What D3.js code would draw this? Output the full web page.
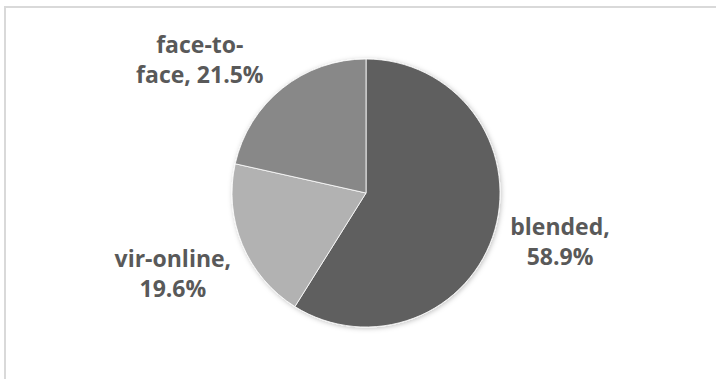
<!DOCTYPE html>
<html>
<head>
<meta charset="utf-8">
<script src="https://cdn.jsdelivr.net/npm/d3@7"></script>
<style>
  html, body { margin: 0; padding: 0; background: #ffffff; }
  svg { display: block; }
</style>
</head>
<body>
<svg id="chart" width="716" height="379"></svg>
<script>
// Share of delivery modes (percent), drawn clockwise from 12 o'clock
const categories = ["blended", "vir-online", "face-to-face"];
const values = [58.9, 19.6, 21.5];
const sliceColors = ["#5f5f5f", "#b2b2b2", "#888888"];

// Where each data label wraps onto a second line
const labelLines = [
  d => [d.category + ",", d.value.toFixed(1) + "%"],
  d => [d.category + ",", d.value.toFixed(1) + "%"],
  d => ["face-to-", "face, " + d.value.toFixed(1) + "%"]
];

const width = 716, height = 379;
const cx = 366, cy = 193, radius = 134;
const labelRadius = 205;
const lineGap = 30;
// best-fit nudges for each label, in pixels
const labelNudge = [[-3, 0], [-4, 10], [-38, 35]];

const svg = d3.select("#chart");

// chart area frame
svg.append("rect")
  .attr("x", 5).attr("y", 7)
  .attr("width", width + 20).attr("height", height + 20)
  .attr("fill", "#ffffff")
  .attr("stroke", "#d9d9d9")
  .attr("stroke-width", 2);

const defs = svg.append("defs");
const shadow = defs.append("filter")
  .attr("id", "pieShadow")
  .attr("x", "-20%").attr("y", "-20%")
  .attr("width", "140%").attr("height", "140%");
shadow.append("feDropShadow")
  .attr("dx", 1).attr("dy", 1)
  .attr("stdDeviation", 2.5)
  .attr("flood-color", "#000000")
  .attr("flood-opacity", 0.25);

const data = categories.map((c, i) => ({ category: c, value: values[i], i }));

const pie = d3.pie()
  .value(d => d.value)
  .sort(null)
  .startAngle(0)
  .endAngle(2 * Math.PI);

const arcs = pie(data);

const arc = d3.arc().innerRadius(0).outerRadius(radius);
const labelArc = d3.arc().innerRadius(labelRadius).outerRadius(labelRadius);

const g = svg.append("g").attr("transform", `translate(${cx},${cy})`);

g.append("g")
  .attr("filter", "url(#pieShadow)")
  .selectAll("path")
  .data(arcs)
  .join("path")
  .attr("d", arc)
  .attr("fill", d => sliceColors[d.data.i])
  .attr("stroke", "#ffffff")
  .attr("stroke-width", 0.8)
  .attr("stroke-linejoin", "round");

const labels = g.append("g")
  .attr("font-family", "'Open Sans', 'DejaVu Sans', sans-serif")
  .attr("font-weight", 700)
  .attr("font-size", 23)
  .attr("fill", "#595959")
  .attr("text-anchor", "middle");

labels.selectAll("text")
  .data(arcs)
  .join("text")
  .each(function(d) {
    const [lx, ly] = labelArc.centroid(d);
    const [nx, ny] = labelNudge[d.data.i];
    const x = lx + nx, y = ly + ny;
    const lines = labelLines[d.data.i](d.data);
    const t = d3.select(this);
    lines.forEach((line, k) => {
      t.append("tspan")
        .attr("x", x)
        .attr("y", y + (k - (lines.length - 1) / 2) * lineGap)
        .text(line);
    });
  });
</script>
</body>
</html>
